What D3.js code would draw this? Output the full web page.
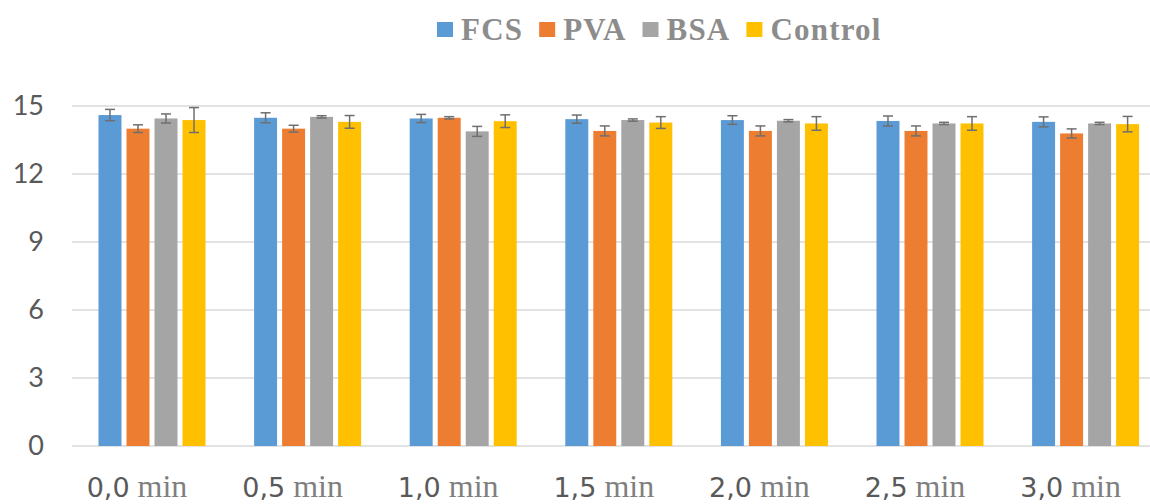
<!DOCTYPE html>
<html><head><meta charset="utf-8">
<script src="https://cdn.jsdelivr.net/npm/d3@7"></script>
<style>body{margin:0;background:#fff}svg{display:block}</style>
</head><body><svg id="c" width="1150" height="504"></svg>
<script>
const categories = ["0,0", "0,5", "1,0", "1,5", "2,0", "2,5", "3,0"];
const unit = "min";
const seriesNames = ["FCS", "PVA", "BSA", "Control"];
const FCS = [14.6, 14.48, 14.45, 14.42, 14.38, 14.34, 14.3];
const PVA = [14.0, 14.0, 14.48, 13.9, 13.9, 13.9, 13.79];
const BSA = [14.45, 14.52, 13.88, 14.38, 14.35, 14.23, 14.23];
const Control = [14.38, 14.3, 14.33, 14.27, 14.23, 14.23, 14.2];
const FCS_err = [0.25, 0.22, 0.18, 0.18, 0.19, 0.22, 0.22];
const PVA_err = [0.17, 0.15, 0.05, 0.22, 0.22, 0.22, 0.2];
const BSA_err = [0.2, 0.05, 0.22, 0.05, 0.05, 0.05, 0.05];
const Control_err = [0.55, 0.28, 0.28, 0.26, 0.3, 0.3, 0.34];
const yTicks = [0, 3, 6, 9, 12, 15];
const colors = ["#5B9BD5", "#ED7D31", "#A5A5A5", "#FFC000"];

const values = {FCS, PVA, BSA, Control};
const errs = {FCS: FCS_err, PVA: PVA_err, BSA: BSA_err, Control: Control_err};
const svg = d3.select("#c");

const y = d3.scaleLinear().domain([0, 15]).range([446, 106]);
const x0 = d3.scaleBand().domain(categories).range([74.2, 1163.4]).paddingInner(0.28).paddingOuter(0.14);
const x1 = d3.scaleBand().domain(seriesNames).range([0, x0.bandwidth()]).paddingInner(0.18).paddingOuter(0.09);
const color = d3.scaleOrdinal().domain(seriesNames).range(colors);

// gridlines
svg.append("g").selectAll("line").data(yTicks).join("line")
  .attr("x1", 72).attr("x2", 1150)
  .attr("y1", d => y(d)).attr("y2", d => y(d))
  .attr("stroke", "#d9d9d9").attr("stroke-width", 1.3);

// y tick labels
svg.append("g").selectAll("text").data(yTicks).join("text")
  .attr("x", 44).attr("y", d => y(d)).attr("dy", "0.35em")
  .attr("text-anchor", "end")
  .attr("font-family", "Lato, 'Open Sans', sans-serif").attr("font-size", 27)
  .attr("fill", "#595959").text(d => d);

// bars
const groups = svg.append("g").selectAll("g").data(categories).join("g")
  .attr("transform", d => `translate(${x0(d)},0)`);
const cells = groups.selectAll("g").data((c, i) => seriesNames.map(s => ({s, v: values[s][i], e: errs[s][i]})))
  .join("g");
cells.append("rect")
  .attr("x", d => x1(d.s)).attr("width", x1.bandwidth())
  .attr("y", d => y(d.v)).attr("height", d => y(0) - y(d.v))
  .attr("fill", d => color(d.s));
const eb = cells.append("g").attr("stroke", "#6f6f6f").attr("stroke-width", 1.5).attr("fill", "none");
eb.append("line")
  .attr("x1", d => x1(d.s) + x1.bandwidth() / 2).attr("x2", d => x1(d.s) + x1.bandwidth() / 2)
  .attr("y1", d => y(d.v + d.e)).attr("y2", d => y(d.v - d.e));
eb.append("line")
  .attr("x1", d => x1(d.s) + x1.bandwidth() / 2 - 5).attr("x2", d => x1(d.s) + x1.bandwidth() / 2 + 5)
  .attr("y1", d => y(d.v + d.e)).attr("y2", d => y(d.v + d.e));
eb.append("line")
  .attr("x1", d => x1(d.s) + x1.bandwidth() / 2 - 5).attr("x2", d => x1(d.s) + x1.bandwidth() / 2 + 5)
  .attr("y1", d => y(d.v - d.e)).attr("y2", d => y(d.v - d.e));

// x labels
const xl = svg.append("g").selectAll("text").data(categories).join("text")
  .attr("x", d => x0(d) + x0.bandwidth() / 2 - 15).attr("y", 497)
  .attr("text-anchor", "middle").attr("fill", "#595959");
xl.append("tspan").attr("font-family", "'DejaVu Sans', sans-serif").attr("font-size", 27).text(d => d);
xl.append("tspan").attr("font-family", "'Liberation Serif', serif").attr("font-size", 32).attr("fill", "#7f7f7f").text(" " + unit);

// legend
const leg = svg.append("g");
let lx = 437;
seriesNames.forEach((s, i) => {
  leg.append("rect").attr("x", lx).attr("y", 22).attr("width", 16).attr("height", 15).attr("fill", color(s));
  const t = leg.append("text").attr("x", lx + 24).attr("y", 40)
    .attr("font-family", "'Liberation Serif', serif").attr("font-weight", "bold").attr("font-size", 31)
    .attr("letter-spacing", 1.2)
    .attr("fill", "#8c8c8c").text(s);
  lx += 24 + t.node().getComputedTextLength() + 16;
});
</script></body></html>
